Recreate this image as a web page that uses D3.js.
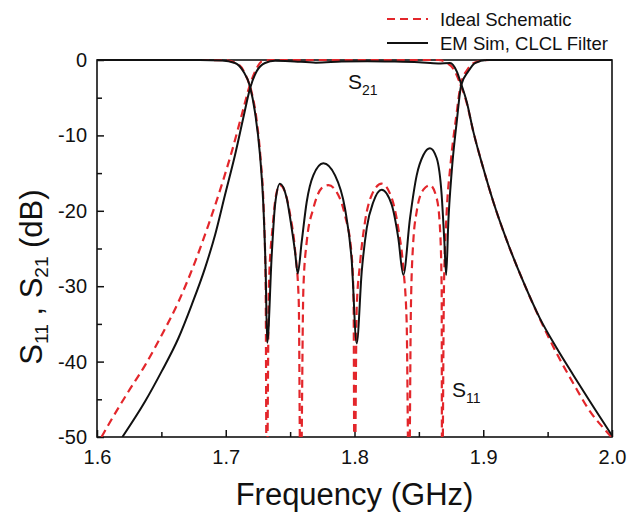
<!DOCTYPE html>
<html>
<head>
<meta charset="utf-8">
<script src="https://cdn.jsdelivr.net/npm/d3@7"></script>
<style>
  html, body { margin: 0; padding: 0; background: #fff; }
  svg { display: block; font-family: "Liberation Sans", Arial, sans-serif; }
</style>
</head>
<body>
<svg id="chart" width="629" height="513"></svg>
<script>
// Frequency sweep data: [frequency (GHz), magnitude (dB)]
const idealS21 = [
  [1.6035,-50],[1.6088,-48.4],[1.6243,-44],[1.6373,-40.5],[1.6502,-36.5],[1.6632,-32.1],
  [1.6761,-26.8],[1.6865,-21.9],[1.6968,-16.6],[1.7046,-12.2],[1.7124,-7.3],[1.7188,-3.3],
  [1.724,-1.1],[1.7279,-0.2],[1.735,0],[1.82,0],[1.865,0],[1.872,-0.4],[1.877,-1.2],
  [1.8815,-2.9],[1.887,-5.6],[1.8923,-9.5],[1.9001,-14.4],[1.9078,-18.8],[1.9182,-23.9],
  [1.9311,-29.4],[1.9441,-34.4],[1.957,-38.9],[1.97,-42.9],[1.9829,-46.6],[1.9959,-49.3],[2.0,-50.1]
];
const idealS11 = [
  [1.6,0],[1.685,0],[1.70,-0.05],[1.71,-0.6],[1.716,-2.2],[1.72,-4.2],[1.724,-8],[1.727,-13],
  [1.7295,-20],[1.731,-30],[1.7318,-60],[1.7335,-30],[1.7365,-22],[1.739,-18],[1.7421,-16.6],
  [1.746,-17.5],[1.75,-20.5],[1.754,-25.5],[1.7567,-32],[1.7581,-60],[1.7603,-30.3],[1.7629,-24.1],
  [1.768,-19.7],[1.7745,-17],[1.7797,-16.6],[1.7874,-17.9],[1.7926,-20.6],[1.7978,-25.9],
  [1.7993,-32],[1.80,-60],[1.8017,-33],[1.8043,-27],[1.8082,-21.4],[1.8134,-17.9],[1.8211,-16.4],
  [1.8289,-18.3],[1.834,-22.3],[1.8379,-27.6],[1.8405,-34.7],[1.8423,-60],[1.8438,-33],
  [1.8455,-24.5],[1.8483,-20.1],[1.8535,-17.2],[1.8586,-16.6],[1.8638,-18.3],[1.8664,-22.3],
  [1.8677,-30.3],[1.868,-60],[1.8695,-30],[1.8715,-20.5],[1.8745,-14],[1.879,-7.5],[1.8825,-3.3],
  [1.888,-1.2],[1.894,-0.3],[1.905,0],[2.0,0]
];
const emS21 = [
  [1.6197,-50],[1.6373,-45.3],[1.6502,-41.3],[1.6632,-36.9],[1.6735,-32.5],[1.6839,-27.6],
  [1.6917,-23.2],[1.6994,-17.9],[1.7072,-12.6],[1.7136,-7.7],[1.7188,-3.8],[1.724,-1.5],
  [1.7305,-0.4],[1.7383,-0.1],[1.75,-0.15],[1.77,-0.35],[1.79,-0.2],[1.81,-0.15],[1.83,-0.2],
  [1.85,-0.3],[1.865,-0.45],[1.8742,-0.4],[1.8794,-1.5],[1.8829,-3.2],[1.8871,-5.5],
  [1.8923,-9.5],[1.9001,-14.4],[1.9078,-18.8],[1.9182,-23.9],[1.9311,-29.4],[1.9441,-34.3],
  [1.957,-38.2],[1.97,-41.8],[1.9829,-45.3],[2.0,-49.8]
];
const emS11 = [
  [1.6,0],[1.68,0],[1.6968,-0.05],[1.7072,-0.4],[1.7136,-1.5],[1.7188,-3.5],[1.7227,-6.9],
  [1.7266,-12.6],[1.7292,-19.2],[1.731,-28],[1.7322,-37.5],[1.7357,-25.9],[1.7383,-19.2],
  [1.7421,-16.4],[1.7473,-18.3],[1.7512,-22.3],[1.7538,-25.4],[1.7559,-28.3],[1.759,-24.1],
  [1.7629,-18.8],[1.768,-15.3],[1.7758,-13.7],[1.7849,-15.3],[1.7926,-19.7],[1.7978,-26.5],
  [1.8017,-37.6],[1.8056,-28.1],[1.8095,-22.3],[1.8147,-18.8],[1.8211,-17.2],[1.8289,-19.2],
  [1.834,-23.6],[1.8379,-28.5],[1.8431,-21],[1.8483,-15.3],[1.8535,-12.6],[1.8586,-11.7],
  [1.8638,-13],[1.8677,-17.9],[1.8698,-24.1],[1.8712,-28.5],[1.8729,-21.4],[1.8755,-14.8],
  [1.8794,-8.2],[1.8829,-3.3],[1.8884,-1.5],[1.8936,-0.4],[1.9027,0],[2.0,0]
];

const xTicks = [1.6, 1.7, 1.8, 1.9, 2.0];
const xMinorTicks = [1.65, 1.75, 1.85, 1.95];
const yTicks = [0, -10, -20, -30, -40, -50];
const yMinorTicks = [-5, -15, -25, -35, -45];
const legendLabels = ["Ideal Schematic", "EM Sim, CLCL Filter"];

const margin = { left: 97, top: 60, right: 17, bottom: 76 };
const W = 629, H = 513;
const pw = W - margin.left - margin.right;
const ph = H - margin.top - margin.bottom;

const svg = d3.select("#chart");
const g = svg.append("g").attr("transform", `translate(${margin.left},${margin.top})`);

const x = d3.scaleLinear().domain([1.6, 2.0]).range([0, pw]);
const y = d3.scaleLinear().domain([-50, 0]).range([ph, 0]);

svg.append("defs").append("clipPath").attr("id", "plotClip")
  .append("rect").attr("x", 0).attr("y", -3).attr("width", pw).attr("height", ph + 3);

// Axes with inward ticks
const axisFont = 20;
const xAxis = g.append("g").attr("transform", `translate(0,${ph})`)
  .call(d3.axisBottom(x).tickValues(xTicks).tickSize(-7).tickPadding(13)
    .tickFormat(d3.format(".1f")));
const xMinor = g.append("g").attr("transform", `translate(0,${ph})`)
  .call(d3.axisBottom(x).tickValues(xMinorTicks).tickSize(-5).tickFormat(""));
const yAxis = g.append("g")
  .call(d3.axisLeft(y).tickValues(yTicks).tickSize(-7).tickPadding(10)
    .tickFormat(d => String(d)));
const yMinor = g.append("g")
  .call(d3.axisLeft(y).tickValues(yMinorTicks).tickSize(-5).tickFormat(""));

[xAxis, xMinor, yAxis, yMinor].forEach(a => {
  a.select(".domain").remove();
  a.selectAll(".tick line").attr("stroke", "#111").attr("stroke-width", 1.5);
  a.selectAll("text").attr("font-size", axisFont).attr("fill", "#111")
    .attr("font-family", "Liberation Sans, Arial, sans-serif");
});

// Plot frame
g.append("rect").attr("width", pw).attr("height", ph)
  .attr("fill", "none").attr("stroke", "#111").attr("stroke-width", 1.6);

// Curves
const line = d3.line().x(d => x(d[0])).y(d => y(d[1])).curve(d3.curveMonotoneX);
const curves = g.append("g").attr("clip-path", "url(#plotClip)");
const red = "#e3262b";

[idealS21, idealS11].forEach(s => {
  curves.append("path").datum(s).attr("d", line)
    .attr("fill", "none").attr("stroke", red).attr("stroke-width", 2.2)
    .attr("stroke-dasharray", "8,5");
});
[emS21, emS11].forEach(s => {
  curves.append("path").datum(s).attr("d", line)
    .attr("fill", "none").attr("stroke", "#111").attr("stroke-width", 2);
});

// Curve labels
function subLabel(px, py, sub, size, subSize) {
  const t = svg.append("text").attr("x", px).attr("y", py)
    .attr("font-size", size).attr("fill", "#111");
  t.append("tspan").text("S");
  t.append("tspan").attr("dy", 6).attr("font-size", subSize).text(sub);
}
subLabel(348, 89, "21", 21, 14);
subLabel(452, 397, "11", 21, 14);

// Axis titles
svg.append("text").attr("x", margin.left + pw / 2).attr("y", 505)
  .attr("text-anchor", "middle").attr("font-size", 31).attr("fill", "#111")
  .text("Frequency (GHz)");

const yt = svg.append("text").attr("transform", "translate(42,277) rotate(-90)")
  .attr("text-anchor", "middle").attr("font-size", 31).attr("fill", "#111");
yt.append("tspan").text("S");
yt.append("tspan").attr("dy", 6).attr("font-size", 19).text("11");
yt.append("tspan").attr("dy", -6).text(" , S");
yt.append("tspan").attr("dy", 6).attr("font-size", 19).text("21");
yt.append("tspan").attr("dy", -6).text(" (dB)");

// Legend
const legend = svg.append("g");
const legendStyles = [
  { stroke: red, dash: "8,5", width: 2.2 },
  { stroke: "#111", dash: null, width: 2 }
];
legendLabels.forEach((lab, i) => {
  const ly = 19 + i * 24;
  legend.append("line").attr("x1", 387).attr("x2", 428).attr("y1", ly).attr("y2", ly)
    .attr("stroke", legendStyles[i].stroke).attr("stroke-width", legendStyles[i].width)
    .attr("stroke-dasharray", legendStyles[i].dash);
  legend.append("text").attr("x", 440).attr("y", ly + 7)
    .attr("font-size", 18.5).attr("fill", "#111").text(lab);
});
</script>
</body>
</html>
